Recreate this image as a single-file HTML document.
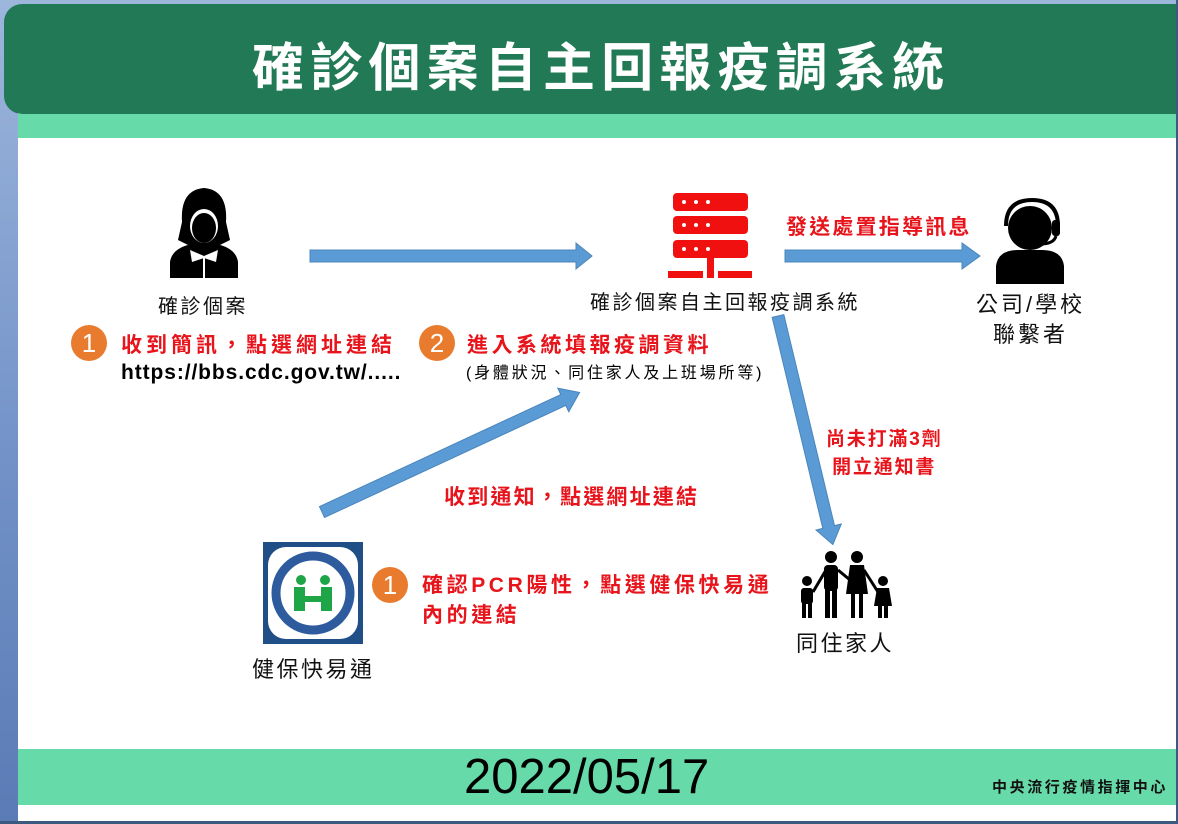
<!DOCTYPE html>
<html><head><meta charset="utf-8"><style>
html,body{margin:0;padding:0}
body{width:1178px;height:824px;position:relative;overflow:hidden;background:linear-gradient(180deg,#9db6dc,#6f8fc6 60%,#5a7bb5);font-family:"Liberation Sans","Noto Sans CJK TC",sans-serif}
.a{position:absolute;white-space:nowrap}
.r{color:#e8141b;font-weight:bold;font-size:21px;letter-spacing:3.5px}
.k{color:#111;font-size:20px;letter-spacing:2.5px}
.c{position:absolute;width:36px;height:36px;border-radius:50%;background:#e87b2e;color:#fff;font-size:26px;text-align:center;line-height:36px}
</style></head><body>
<div class="a" style="left:18px;top:100px;width:1158px;height:722px;background:#fff"></div>
<div class="a" style="left:18px;top:114px;width:1160px;height:24px;background:#66dba9"></div>
<div class="a" style="left:4px;top:4px;width:1190px;height:110px;background:#217a55;border-radius:18px"></div>
<div class="a" style="left:252px;top:26px;color:#fff;font-weight:bold;font-size:52px;letter-spacing:6.2px">確診個案自主回報疫調系統</div>
<div class="a" style="left:18px;top:749px;width:1158px;height:56px;background:#66dba9"></div>
<div class="a" style="left:0;top:821px;width:1178px;height:3px;background:#3c5a80"></div>
<div class="a" style="left:1176px;top:0;width:2px;height:824px;background:#3c5a80"></div>
<div class="a" style="left:464px;top:749px;font-size:49px;color:#000">2022/05/17</div>
<div class="a" style="left:992px;top:776px;font-size:15px;color:#111;font-weight:bold;letter-spacing:2.6px">中央流行疫情指揮中心</div>

<svg class="a" style="left:0;top:0" width="1178" height="824">
<g fill="#000">
<path d="M182 222 Q180 190 204 188 Q228 190 226 222 L230 240 L218 246 L190 246 L178 240 Z"/>
<ellipse cx="204" cy="226" rx="14" ry="17" fill="#fff"/>
<ellipse cx="204" cy="228" rx="12" ry="15"/>
<path d="M170 278 L170 262 Q172 248 192 244 L216 244 Q236 248 238 262 L238 278 Z"/>
<path d="M190 250 L204 256 L218 250 L216 262 L204 258 L192 262 Z" fill="#fff"/>
<rect x="203" y="258" width="2" height="20" fill="#fff"/>
</g>
<g fill="#f01010">
<rect x="673" y="193" width="75" height="18" rx="4"/>
<rect x="673" y="216" width="75" height="18" rx="4"/>
<rect x="673" y="240" width="75" height="18" rx="4"/>
<rect x="707" y="258" width="7" height="20"/>
<rect x="668" y="271" width="35" height="7"/><rect x="718" y="271" width="34" height="7"/>
</g>
<g fill="#fff"><circle cx="684" cy="202" r="2"/><circle cx="696" cy="202" r="2"/><circle cx="708" cy="202" r="2"/>
<circle cx="684" cy="225" r="2"/><circle cx="696" cy="225" r="2"/><circle cx="708" cy="225" r="2"/>
<circle cx="684" cy="249" r="2"/><circle cx="696" cy="249" r="2"/><circle cx="708" cy="249" r="2"/></g>
<g fill="#000">
<circle cx="1030" cy="228" r="22"/>
<path d="M996 284 L996 266 Q998 250 1018 250 L1042 250 Q1062 250 1064 266 L1064 284 Z"/>
<path d="M1006 226 Q1006 200 1032 200 Q1058 200 1058 226" fill="none" stroke="#000" stroke-width="4"/>
<rect x="1052" y="220" width="8" height="16" rx="3"/>
<path d="M1056 236 Q1054 244 1040 244" fill="none" stroke="#000" stroke-width="3"/>
</g>
<g fill="#000">
<circle cx="831" cy="557" r="6"/><rect x="824" y="565" width="14" height="26" rx="4"/><rect x="825" y="588" width="5" height="30"/><rect x="832" y="588" width="5" height="30"/>
<circle cx="857" cy="557" r="6"/><path d="M850 565 L864 565 L868 594 L846 594 Z"/><rect x="851" y="592" width="4" height="26"/><rect x="859" y="592" width="4" height="26"/>
<circle cx="807" cy="581" r="5"/><rect x="801" y="588" width="12" height="16" rx="3"/><rect x="802" y="602" width="4" height="16"/><rect x="808" y="602" width="4" height="16"/>
<circle cx="883" cy="581" r="5"/><path d="M877 588 L889 588 L892 606 L874 606 Z"/><rect x="878" y="604" width="4" height="14"/><rect x="884" y="604" width="4" height="14"/>
<path d="M813 592 L826 570 M838 570 L850 580 M864 570 L878 592" stroke="#000" stroke-width="3"/>
</g>
<rect x="263" y="542" width="100" height="102" fill="#1f4f86"/>
<rect x="268" y="547" width="90" height="92" rx="18" fill="#fff"/>
<circle cx="313" cy="593" r="37" fill="#fff" stroke="#2d5b9e" stroke-width="9"/>
<circle cx="313" cy="593" r="28" fill="#fff"/>
<g fill="#1ea548"><circle cx="301" cy="580" r="5"/><circle cx="325" cy="580" r="5"/>
<rect x="294" y="587" width="11" height="24"/><rect x="321" y="587" width="11" height="24"/><rect x="305" y="596" width="16" height="6"/></g>
<g fill="#5b9bd5" stroke="#4a85bc" stroke-width="1">
<polygon points="310,250 576,250 576,243 592,256 576,269 576,262 310,262"/>
<polygon points="785,250 962,250 962,243 980,256 962,269 962,262 785,262"/>
<g transform="translate(322,512) rotate(-24.9)"><polygon points="0,-6 266,-6 266,-13 284,0 266,13 266,6 0,6"/></g>
<g transform="translate(778,316) rotate(76.5)"><polygon points="0,-6 217,-6 217,-13 235,0 217,13 217,6 0,6"/></g>
</g>
</svg>

<div class="a k" style="left:158px;top:290px">確診個案</div>
<div class="a k" style="left:590px;top:286px">確診個案自主回報疫調系統</div>
<div class="a k" style="left:976px;top:290px;font-size:22px;text-align:center;line-height:30px;letter-spacing:3px">公司/學校<br>聯繫者</div>
<div class="a k" style="left:252px;top:652px;font-size:22px;letter-spacing:2.5px">健保快易通</div>
<div class="a k" style="left:796px;top:626px;font-size:22px;letter-spacing:2.5px">同住家人</div>

<div class="c" style="left:71px;top:325px">1</div>
<div class="a r" style="left:121px;top:329px;letter-spacing:4px">收到簡訊，點選網址連結</div>
<div class="a" style="left:121px;top:361px;font-size:21px;font-weight:bold;color:#000;letter-spacing:0.9px">https://bbs.cdc.gov.tw/.....</div>
<div class="c" style="left:419px;top:325px">2</div>
<div class="a r" style="left:467px;top:329px">進入系統填報疫調資料</div>
<div class="a" style="left:466px;top:359px;font-size:16px;color:#000;letter-spacing:2.8px">(身體狀況、同住家人及上班場所等)</div>
<div class="a r" style="left:786px;top:211px;letter-spacing:2.2px">發送處置指導訊息</div>
<div class="a r" style="left:826px;top:426px;text-align:center;line-height:28px;font-size:19px;letter-spacing:1.8px">尚未打滿3劑<br>開立通知書</div>
<div class="a r" style="left:444px;top:481px;letter-spacing:2.2px">收到通知，點選網址連結</div>
<div class="c" style="left:372px;top:567px">1</div>
<div class="a r" style="left:422px;top:571px;line-height:30px;letter-spacing:3.6px">確認PCR陽性，點選健保快易通<br>內的連結</div>
</body></html>
